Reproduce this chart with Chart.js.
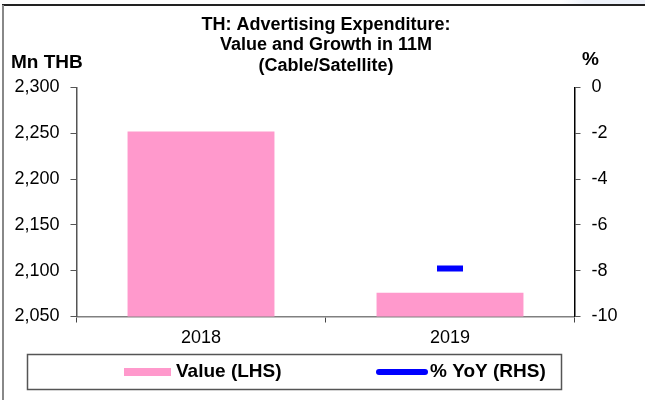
<!DOCTYPE html>
<html>
<head>
<meta charset="utf-8">
<script src="https://cdn.jsdelivr.net/npm/chart.js@4"></script>
<style>
body { margin: 0; background: #fff; }
</style>
</head>
<body>
<canvas id="grafico" width="645" height="400"></canvas>
<script>
// dados
var anos = ['2018', '2019'];
var valores = [2252, 2076];
var crescimento = [null, -7.9];
var ticksEsq = [2050, 2100, 2150, 2200, 2250, 2300];
var ticksDir = [-10, -8, -6, -4, -2, 0];
var titulo = ['TH: Advertising Expenditure:', 'Value and Growth in 11M', '(Cable/Satellite)'];

var rosa = '#FF99CC';
var azul = '#0000FF';

var decoracao = {
    id: 'decoracao',
    beforeDraw: function (chart) {
        var ctx = chart.ctx;
        ctx.save();
        ctx.fillStyle = '#fff';
        ctx.fillRect(0, 0, 645, 400);
        var grad = ctx.createLinearGradient(560, 0, 645, 0);
        grad.addColorStop(0, '#ffffff');
        grad.addColorStop(0.3, '#EEF2FA');
        grad.addColorStop(1, '#EEF2FA');
        ctx.fillStyle = grad;
        ctx.fillRect(560, 0, 85, 5);
        // moldura
        ctx.strokeStyle = '#222';
        ctx.lineWidth = 2;
        ctx.beginPath();
        ctx.moveTo(2, 5);
        ctx.lineTo(645, 5);
        ctx.stroke();
        ctx.strokeStyle = '#888';
        ctx.beginPath();
        ctx.moveTo(3, 5);
        ctx.lineTo(3, 400);
        ctx.stroke();
        ctx.restore();
    },
    afterDraw: function (chart) {
        var ctx = chart.ctx;
        ctx.save();
        ctx.fillStyle = '#000';
        ctx.textBaseline = 'middle';
        ctx.font = 'bold 18px "Liberation Sans", Arial, sans-serif';
        ctx.textAlign = 'center';
        titulo.forEach(function (linha, i) {
            ctx.fillText(linha, 326, 25 + i * 20.5);
        });
        ctx.font = 'bold 19px "Liberation Sans", Arial, sans-serif';
        ctx.textAlign = 'left';
        ctx.fillText('Mn THB', 11, 63);
        ctx.fillText('%', 582, 60);

        // legenda
        ctx.strokeStyle = '#555';
        ctx.lineWidth = 1.5;
        ctx.strokeRect(27.5, 354.5, 534, 35);
        var ds = chart.data.datasets;
        ctx.fillStyle = ds[0].backgroundColor;
        ctx.fillRect(124, 368, 47, 8);
        ctx.strokeStyle = ds[1].borderColor;
        ctx.lineWidth = 6;
        ctx.lineCap = 'round';
        ctx.beginPath();
        ctx.moveTo(379, 372);
        ctx.lineTo(425, 372);
        ctx.stroke();
        ctx.fillStyle = '#000';
        ctx.font = 'bold 19px "Liberation Sans", Arial, sans-serif';
        ctx.fillText(ds[0].label, 176, 372);
        ctx.fillText(ds[1].label, 430, 372);
        ctx.restore();
    }
};

var fonteTicks = { family: '"Liberation Sans", Arial, sans-serif', size: 18 };

new Chart(document.getElementById('grafico'), {
    type: 'bar',
    data: {
        labels: anos,
        datasets: [{
            label: 'Value (LHS)',
            data: valores,
            backgroundColor: rosa,
            borderWidth: 0,
            barPercentage: 0.59,
            categoryPercentage: 1,
            yAxisID: 'y',
            order: 2
        }, {
            type: 'line',
            label: '% YoY (RHS)',
            data: crescimento,
            yAxisID: 'y1',
            showLine: false,
            borderColor: azul,
            backgroundColor: azul,
            pointStyle: 'line',
            pointRadius: 13,
            pointHoverRadius: 13,
            pointBorderWidth: 6,
            order: 1
        }]
    },
    options: {
        responsive: false,
        animation: false,
        layout: { padding: { left: 0, right: 0, top: 87.5, bottom: 53.5 } },
        plugins: {
            legend: { display: false },
            title: { display: false },
            tooltip: { enabled: false }
        },
        scales: {
            x: {
                afterFit: function (s) { s.height = 30; },
                grid: { offset: true, drawOnChartArea: false, tickLength: 6, color: '#444' },
                border: { display: true, color: '#808080', width: 1.5 },
                ticks: { font: fonteTicks, color: '#000', padding: 5 }
            },
            y: {
                position: 'left',
                min: 2050,
                max: 2300,
                afterFit: function (s) { s.width = 76.5; },
                afterBuildTicks: function (s) { s.ticks = ticksEsq.map(function (v) { return { value: v }; }); },
                grid: { drawOnChartArea: false, tickLength: 6, color: '#555' },
                border: { display: true, color: '#555', width: 1.5 },
                ticks: {
                    font: fonteTicks,
                    color: '#000',
                    padding: 11,
                    callback: function (v) { return v.toLocaleString('en-US'); }
                }
            },
            y1: {
                position: 'right',
                min: -10,
                max: 0,
                afterFit: function (s) { s.width = 70.5; },
                afterBuildTicks: function (s) { s.ticks = ticksDir.map(function (v) { return { value: v }; }); },
                grid: { drawOnChartArea: false, tickLength: 6, color: '#555' },
                border: { display: true, color: '#000', width: 1.5 },
                ticks: { font: fonteTicks, color: '#000', padding: 11 }
            }
        }
    },
    plugins: [decoracao]
});
</script>
</body>
</html>
